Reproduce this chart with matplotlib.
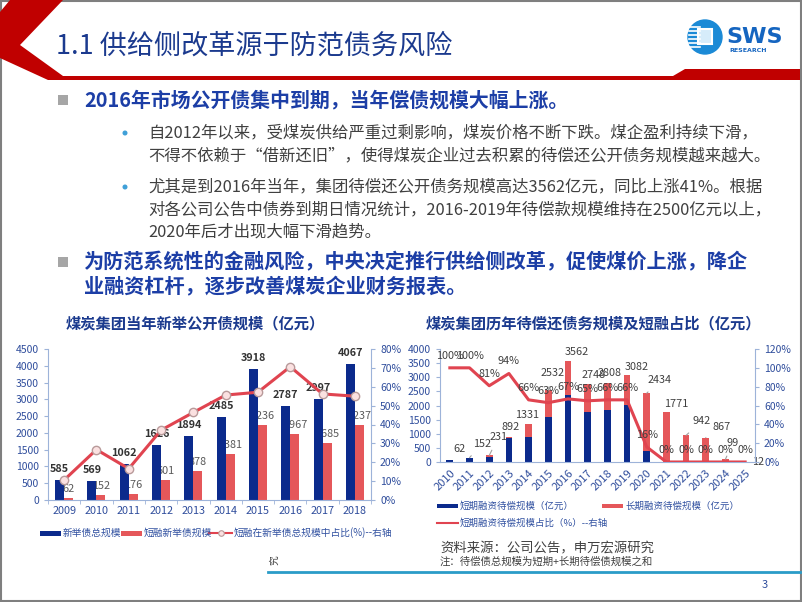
import numpy as np
import matplotlib.pyplot as plt
from matplotlib.patches import Polygon, Rectangle, Circle

plt.rcParams['font.family'] = ['Noto Sans CJK SC', 'DejaVu Sans']

W, H = 802, 602

# ------------------------------------------------------------
# Left chart: new public bonds issued each year
new_years = ['2009', '2010', '2011', '2012', '2013', '2014', '2015', '2016', '2017', '2018']
new_total = [585, 569, 1062, 1626, 1894, 2485, 3918, 2787, 2997, 4067]
new_short = [62, 152, 176, 601, 878, 1381, 2236, 1967, 1685, 2237]
new_short_pct = [10.6, 26.7, 16.6, 37.0, 46.4, 55.6, 57.1, 70.6, 56.2, 55.0]

# Right chart: bonds due each year
due_years = ['2010', '2011', '2012', '2013', '2014', '2015', '2016', '2017',
             '2018', '2019', '2020', '2021', '2022', '2023', '2024', '2025']
due_total = [62, 152, 231, 892, 1331, 2532, 3562, 2748, 2808, 3082, 2434, 1771, 942, 867, 99, 12]
due_short = [62, 152, 187, 838, 878, 1595, 2387, 1786, 1853, 2034, 389, 0, 0, 0, 0, 0]
due_long = [0, 0, 44, 54, 453, 937, 1175, 962, 955, 1048, 2045, 1771, 942, 867, 99, 12]
due_short_pct = [100, 100, 81, 94, 66, 63, 67, 65, 66, 66, 16, 0, 0, 0, 0, 0]

# label offsets (pixels) for the right chart totals, and which get a leader line
due_lbl_off = [(10, 11), (12, 14), (9, 18), (2, 10), (-2, 9), (4, 17), (9, 9), (6, 9),
               (2, 10), (10, 8), (13, 13), (10, 8), (15, 14), (16, 11), (7, 16), (13, 0)]
due_leader = [False, True, True, False, False, True, False, False,
              False, False, True, False, True, True, True, False]

NAVY = '#0b2a8c'
RED = '#e5575a'
LINE_RED = '#e04450'
AXIS = '#9db3d9'
TICK_BLUE = '#2f4d9c'
TEXT_BLUE = '#1c3ea6'
TITLE_BLUE = '#1b3a8e'
GREY_TXT = '#404040'


def rect(l, t, r, b):
    return [l / W, 1 - b / H, (r - l) / W, (b - t) / H]


fig = plt.figure(figsize=(W / 100, H / 100), dpi=100)
bg = fig.add_axes([0, 0, 1, 1])
bg.set_xlim(0, W)
bg.set_ylim(H, 0)
bg.axis('off')

# ------------------------------------------------------------
# Slide frame and header
bg.add_patch(Rectangle((1, 1), W - 2.5, H - 2.5, fill=False, ec='#7f7f7f', lw=1.5))
bg.add_patch(Polygon([(10, 0), (63, 0), (20, 45), (63, 76), (63, 80), (48, 80), (0, 58), (0, 12)],
                     closed=True, color='#c00000', lw=0))
bg.add_patch(Polygon([(55, 76), (673, 76), (685, 69), (800, 69), (800, 80), (55, 80)],
                     closed=True, color='#c00000', lw=0))
bg.text(56, 46, '1.1 供给侧改革源于防范债务风险', fontsize=19.5, color=TITLE_BLUE,
        ha='left', va='center')

# logo
bg.add_patch(Circle((705, 37), 17, color='#1b8ad6'))
for yy in [27, 31, 35, 39, 43, 47]:
    bg.plot([689, 700], [yy, yy], color='white', lw=1.2)
bg.add_patch(Rectangle((698, 29), 14, 15, fc='#d6ecfa', ec='white', lw=1.5))
bg.text(726, 37, 'SWS', fontsize=16, fontweight='bold', color='#1565c0', ha='left', va='center',
        family='DejaVu Sans')
bg.text(729, 51, 'RESEARCH', fontsize=4.5, fontweight='bold', color='#1565c0', ha='left', va='center',
        family='DejaVu Sans')

# ------------------------------------------------------------
# Bullet text
bg.add_patch(Rectangle((58, 95), 10, 10, color='#a6a6a6', lw=0))
bg.text(84, 100, '2016年市场公开债集中到期，当年偿债规模大幅上涨。', fontsize=14.3,
        fontweight='bold', color=TEXT_BLUE, ha='left', va='center')

sub1 = ['自2012年以来，受煤炭供给严重过剩影响，煤炭价格不断下跌。煤企盈利持续下滑，',
        '不得不依赖于“借新还旧”，使得煤炭企业过去积累的待偿还公开债务规模越来越大。']
sub2 = ['尤其是到2016年当年，集团待偿还公开债务规模高达3562亿元，同比上涨41%。根据',
        '对各公司公告中债券到期日情况统计，2016-2019年待偿款规模维持在2500亿元以上，',
        '2020年后才出现大幅下滑趋势。']
bg.add_patch(Circle((125, 133), 1.8, color='#3fa0d8'))
for k, s in enumerate(sub1):
    bg.text(148, 133 + 22.5 * k, s, fontsize=11.8, color=GREY_TXT, ha='left', va='center')
bg.add_patch(Circle((125, 187), 1.8, color='#3fa0d8'))
for k, s in enumerate(sub2):
    bg.text(148, 187 + 22.5 * k, s, fontsize=11.8, color=GREY_TXT, ha='left', va='center')

bg.add_patch(Rectangle((58, 257), 10, 10, color='#a6a6a6', lw=0))
bg.text(84, 262, '为防范系统性的金融风险，中央决定推行供给侧改革，促使煤价上涨，降企',
        fontsize=14.5, fontweight='bold', color=TEXT_BLUE, ha='left', va='center')
bg.text(84, 287, '业融资杠杆，逐步改善煤炭企业财务报表。',
        fontsize=14.5, fontweight='bold', color=TEXT_BLUE, ha='left', va='center')

# chart titles
bg.text(195, 323, '煤炭集团当年新举公开债规模（亿元）', fontsize=11, fontweight='bold',
        color=TITLE_BLUE, ha='center', va='center')
bg.text(593, 323, '煤炭集团历年待偿还债务规模及短融占比（亿元）', fontsize=11, fontweight='bold',
        color=TITLE_BLUE, ha='center', va='center')


def style_axes(ax, axr):
    ax.set_facecolor('none')
    for sp in ['top', 'right']:
        ax.spines[sp].set_visible(False)
    for sp in ['left', 'bottom']:
        ax.spines[sp].set_color(AXIS)
    for sp in ['top', 'left', 'bottom']:
        axr.spines[sp].set_visible(False)
    axr.spines['right'].set_color(AXIS)
    ax.tick_params(axis='y', colors=AXIS, labelcolor=TICK_BLUE, labelsize=7.5, length=3)
    axr.tick_params(axis='y', colors=AXIS, labelcolor=TICK_BLUE, labelsize=7.5, length=3)


# ------------------------------------------------------------
# Left chart
ax1 = fig.add_axes(rect(48, 349, 371, 500))
ax1r = ax1.twinx()
style_axes(ax1, ax1r)
x1 = np.arange(len(new_years))
bw = 0.28
ax1.bar(x1 - bw / 2, new_total, bw, color=NAVY, zorder=2)
ax1.bar(x1 + bw / 2, new_short, bw, color=RED, zorder=2)
for i in x1:
    ax1.annotate(str(new_total[i]), (i - bw / 2, new_total[i]), xytext=(0, 11),
                 textcoords='offset pixels', ha='center', va='center', fontsize=7.8,
                 fontweight='bold', color='#333333', zorder=3)
    ax1.annotate(str(new_short[i]), (i + bw / 2, new_short[i]), xytext=(0, 9),
                 textcoords='offset pixels', ha='center', va='center', fontsize=7.8,
                 color='#595959', zorder=1)
ax1.set_xlim(-0.5, len(new_years) - 0.5)
ax1.set_ylim(0, 4500)
ax1.set_yticks(np.arange(0, 4501, 500))
ax1.set_xticks(x1)
ax1.set_xticklabels(new_years)
ax1.set_xticks(np.arange(-0.5, len(new_years), 1), minor=True)
ax1.tick_params(axis='x', which='major', length=0, labelcolor=TICK_BLUE, labelsize=7.8, pad=4)
ax1.tick_params(axis='x', which='minor', length=3, color=AXIS)

ax1r.plot(x1, new_short_pct, color=LINE_RED, lw=2.2, marker='o', ms=6,
          mfc='#fbe1e1', mec='#b89a9a', mew=1)
ax1r.set_ylim(0, 80)
ax1r.set_yticks(np.arange(0, 81, 10))
ax1r.set_yticklabels([f'{v}%' for v in range(0, 81, 10)])

# left legend
bg.add_patch(Rectangle((40, 531), 21, 4.5, color=NAVY, lw=0))
bg.text(63, 533, '新举债总规模', fontsize=7, color='#3050a0', ha='left', va='center')
bg.add_patch(Rectangle((121, 531), 21, 4.5, color=RED, lw=0))
bg.text(144, 533, '短融新举债规模', fontsize=7, color='#3050a0', ha='left', va='center')
bg.plot([209, 232], [533, 533], color=LINE_RED, lw=1.5)
bg.plot([220.5], [533], marker='o', ms=4, mfc='#fbe1e1', mec='#b89a9a', mew=0.8)
bg.text(234, 533, '短融在新举债总规模中占比(%)--右轴', fontsize=7, color='#3050a0',
        ha='left', va='center')

# ------------------------------------------------------------
# Right chart
ax2 = fig.add_axes(rect(440, 349, 755, 462))
ax2r = ax2.twinx()
style_axes(ax2, ax2r)
x2 = np.arange(len(due_years))
ax2.bar(x2, due_short, 0.34, color=NAVY, zorder=2)
ax2.bar(x2, due_long, 0.34, bottom=due_short, color=RED, zorder=2)
for i in x2:
    arrow = dict(arrowstyle='-', color='#a0a0a0', lw=0.8, shrinkA=4, shrinkB=0) if due_leader[i] else None
    ax2.annotate(str(due_total[i]), (i, due_total[i]), xytext=due_lbl_off[i],
                 textcoords='offset pixels', ha='center', va='center', fontsize=7.8,
                 color=GREY_TXT, zorder=3, arrowprops=arrow)
ax2.set_xlim(-0.5, len(due_years) - 0.5)
ax2.set_ylim(0, 4000)
ax2.set_yticks(np.arange(0, 4001, 500))
ax2.set_xticks(x2)
ax2.set_xticklabels(due_years, rotation=45, ha='right', rotation_mode='anchor')
ax2.tick_params(axis='x', length=0, labelcolor=TICK_BLUE, labelsize=8, pad=4)

ax2r.plot(x2, due_short_pct, color=LINE_RED, lw=2.2)
for i in x2:
    ax2r.annotate(f'{due_short_pct[i]}%', (i, due_short_pct[i]), xytext=(0, 12),
                  textcoords='offset pixels', ha='center', va='center', fontsize=7.8,
                  color=GREY_TXT)
ax2r.set_ylim(0, 120)
ax2r.set_yticks(np.arange(0, 121, 20))
ax2r.set_yticklabels([f'{v}%' for v in range(0, 121, 20)])

# right legend
bg.add_patch(Rectangle((437, 503.5), 21, 4.5, color=NAVY, lw=0))
bg.text(460, 506, '短期融资待偿规模（亿元）', fontsize=6.8, color='#3050a0', ha='left', va='center')
bg.add_patch(Rectangle((602, 503.5), 21, 4.5, color=RED, lw=0))
bg.text(625, 506, '长期融资待偿规模（亿元）', fontsize=6.8, color='#3050a0', ha='left', va='center')
bg.plot([437, 458], [523, 523], color=LINE_RED, lw=1.5)
bg.text(460, 523, '短期融资待偿规模占比（%）--右轴', fontsize=6.8, color='#3050a0',
        ha='left', va='center')

# ------------------------------------------------------------
# Footer
bg.text(440, 548, '资料来源：公司公告，申万宏源研究', fontsize=9.6, color=GREY_TXT, ha='left', va='center')
bg.text(440, 562, '注：待偿债总规模为短期+长期待偿债规模之和', fontsize=7.5, color=GREY_TXT,
        ha='left', va='center')
bg.text(269, 560, '究', fontsize=7, color=GREY_TXT, ha='left', va='center', rotation=90)
bg.plot([268, 800], [572, 572], color='#2a9cc8', lw=2)
bg.text(765, 585, '3', fontsize=8, color=TICK_BLUE, ha='center', va='center')

fig.savefig('out.png', dpi=100)
